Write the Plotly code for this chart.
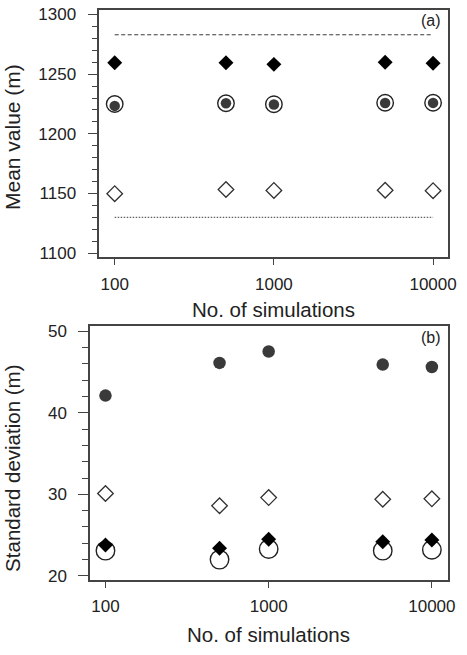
import plotly.graph_objects as go

W, H = 467, 655

# ---- data ----
n_sims = [100, 500, 1000, 5000, 10000]

# Panel (a): mean values (m)
mean_filled_diamond = [1259.6, 1259.6, 1258.2, 1260.0, 1259.2]
mean_open_circle = [1225.0, 1225.6, 1224.8, 1226.0, 1226.0]
mean_filled_dot = [1223.4, 1225.6, 1224.6, 1225.8, 1225.9]
mean_open_diamond = [1149.8, 1153.3, 1152.5, 1152.7, 1152.3]
mean_upper_ref = 1283
mean_lower_ref = 1130

# Panel (b): standard deviations (m)
sd_filled_dot = [42.1, 46.1, 47.5, 45.9, 45.6]
sd_open_diamond = [30.1, 28.6, 29.6, 29.4, 29.45]
sd_filled_diamond = [23.8, 23.4, 24.5, 24.2, 24.4]
sd_open_circle = [23.1, 22.0, 23.3, 23.1, 23.2]

x_ticks = [100, 1000, 10000]
x_ticktext = ["100", "1000", "10000"]
ya_ticks = [1100, 1150, 1200, 1250, 1300]
yb_ticks = [20, 30, 40, 50]

FONT = "Liberation Sans, Arial, sans-serif"
DARK = "#3a3a3a"
AX = "#444444"


def px_x(p):
    return p / W


def px_y(p):
    return 1 - p / H


fig = go.Figure()

# ---- panel (a) ----
fig.add_trace(go.Scatter(x=[n_sims[0], n_sims[-1]], y=[mean_upper_ref] * 2, mode="lines",
                         line=dict(color=DARK, width=1, dash="4px,2.5px"), xaxis="x", yaxis="y"))
fig.add_trace(go.Scatter(x=[n_sims[0], n_sims[-1]], y=[mean_lower_ref] * 2, mode="lines",
                         line=dict(color=DARK, width=1, dash="1.5px,1.5px"), xaxis="x", yaxis="y"))
fig.add_trace(go.Scatter(x=n_sims, y=mean_open_circle, mode="markers",
                         marker=dict(symbol="circle-open", size=16.5, color="#222", line=dict(width=1.4)),
                         xaxis="x", yaxis="y"))
fig.add_trace(go.Scatter(x=n_sims, y=mean_filled_dot, mode="markers",
                         marker=dict(symbol="circle", size=10.5, color=DARK, line=dict(width=0)),
                         xaxis="x", yaxis="y"))
fig.add_trace(go.Scatter(x=n_sims, y=mean_filled_diamond, mode="markers",
                         marker=dict(symbol="diamond", size=11.5, color="#000", line=dict(width=0)),
                         xaxis="x", yaxis="y"))
fig.add_trace(go.Scatter(x=n_sims, y=mean_open_diamond, mode="markers",
                         marker=dict(symbol="diamond-open", size=12, color="#333", line=dict(width=1.3)),
                         xaxis="x", yaxis="y"))

# ---- panel (b) ----
fig.add_trace(go.Scatter(x=n_sims, y=sd_open_circle, mode="markers",
                         marker=dict(symbol="circle-open", size=18.5, color="#222", line=dict(width=1.4)),
                         xaxis="x2", yaxis="y2"))
fig.add_trace(go.Scatter(x=n_sims, y=sd_filled_diamond, mode="markers",
                         marker=dict(symbol="diamond", size=11.5, color="#000", line=dict(width=0)),
                         xaxis="x2", yaxis="y2"))
fig.add_trace(go.Scatter(x=n_sims, y=sd_open_diamond, mode="markers",
                         marker=dict(symbol="diamond-open", size=12, color="#333", line=dict(width=1.3)),
                         xaxis="x2", yaxis="y2"))
fig.add_trace(go.Scatter(x=n_sims, y=sd_filled_dot, mode="markers",
                         marker=dict(symbol="circle", size=12.5, color=DARK, line=dict(width=0)),
                         xaxis="x2", yaxis="y2"))

common_x = dict(type="log", tickvals=x_ticks, ticktext=x_ticktext, ticks="outside", ticklen=6,
                tickwidth=1.2, tickcolor=AX, showline=True, linecolor=AX, linewidth=1.5, mirror=True,
                showgrid=False, zeroline=False, tickfont=dict(family=FONT, size=17, color="#222"),
                ticklabelstandoff=4)
common_y = dict(ticks="outside", ticklen=10, tickwidth=1.2, tickcolor=AX, showline=True, linecolor=AX,
                linewidth=1.5, mirror=True, showgrid=False, zeroline=False,
                tickfont=dict(family=FONT, size=17, color="#222"), ticklabelstandoff=8)

fig.update_layout(
    width=W, height=H, margin=dict(l=0, r=0, t=0, b=0),
    paper_bgcolor="white", plot_bgcolor="white", showlegend=False,
    xaxis=dict(common_x, domain=[px_x(101), px_x(456)], range=[1.903, 4.095], anchor="y"),
    yaxis=dict(common_y, domain=[px_y(256.7), px_y(5.3)], range=[1096.4, 1303.6],
               tickvals=ya_ticks, anchor="x",
               minor=dict(dtick=10, tick0=1100, ticklen=6, ticks="outside", tickcolor=AX, tickwidth=1)),
    xaxis2=dict(common_x, domain=[px_x(91.7), px_x(456)], range=[1.906, 4.1], anchor="y2"),
    yaxis2=dict(common_y, domain=[px_y(585), px_y(326.7)], range=[19.48, 50.6],
                tickvals=yb_ticks, anchor="x2",
                minor=dict(dtick=2, tick0=20, ticklen=6, ticks="outside", tickcolor=AX, tickwidth=1)),
    annotations=[
        dict(text="Mean value (m)", x=px_x(12), y=px_y(134.5), xref="paper", yref="paper",
             textangle=-90, showarrow=False, font=dict(family=FONT, size=21, color="#222"),
             xanchor="center", yanchor="middle"),
        dict(text="No. of simulations", x=px_x(278.5), y=px_y(310), xref="paper", yref="paper",
             showarrow=False, font=dict(family=FONT, size=20.5, color="#222"),
             xanchor="center", yanchor="middle"),
        dict(text="Standard deviation (m)", x=px_x(12), y=px_y(471), xref="paper", yref="paper",
             textangle=-90, showarrow=False, font=dict(family=FONT, size=20.5, color="#222"),
             xanchor="center", yanchor="middle"),
        dict(text="No. of simulations", x=px_x(273), y=px_y(640), xref="paper", yref="paper",
             showarrow=False, font=dict(family=FONT, size=20.5, color="#222"),
             xanchor="center", yanchor="middle"),
        dict(text="(a)", x=px_x(439), y=px_y(16), xref="paper", yref="paper",
             showarrow=False, font=dict(family=FONT, size=16, color="#222"),
             xanchor="center", yanchor="middle"),
        dict(text="(b)", x=px_x(439), y=px_y(338), xref="paper", yref="paper",
             showarrow=False, font=dict(family=FONT, size=16, color="#222"),
             xanchor="center", yanchor="middle"),
    ],
)

fig.write_html("out.html")
